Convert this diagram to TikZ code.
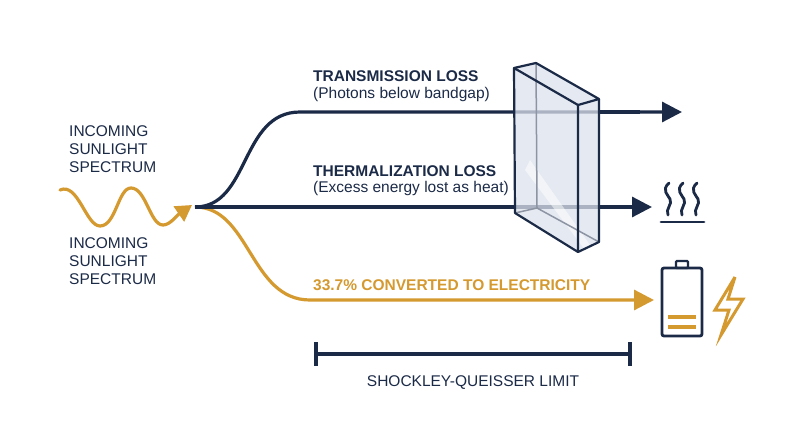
\documentclass[tikz,border=0pt]{standalone}
\usepackage{fontspec}
\setmainfont{Liberation Sans}
\usetikzlibrary{arrows.meta}
\definecolor{navy}{HTML}{1B2A47}
\definecolor{gold}{HTML}{D4992F}
\definecolor{glass}{HTML}{DCE2EC}
\begin{document}
\begin{tikzpicture}[x=1pt,y=-1pt,
  nv/.style={draw=navy,line width=3.2pt},
  gd/.style={draw=gold,line width=3.2pt},
  tip/.style={-{Triangle[length=20pt,width=20pt]}},
  lbl/.style={font=\fontsize{15.5}{18}\selectfont,anchor=west,inner sep=0},
  left/.style={font=\fontsize{15.5}{18}\selectfont,align=left,anchor=north west,inner sep=0,text=navy}]
\useasboundingbox (0,0) rectangle (800,447);
% wave
\coordinate (w0) at (60,190);
\coordinate (wt) at (192,205);
\draw[gd,-{Triangle[length=16pt,width=18pt]},line cap=round]
  (w0) .. controls (78,182) and (86,226) .. (100,226)
  .. controls (116,226) and (118,188) .. (131,188)
  .. controls (146,188) and (150,225) .. (163,225)
  .. controls (170,225) and (176,216) .. (wt);
\coordinate (s) at (195,207);
% branches
\coordinate (tEnd) at (682,112);
\coordinate (mEnd) at (652,207);
\coordinate (bEnd) at (654,300);
\draw[gd,tip] (s) .. controls (250,207) and (250,300) .. (310,300) -- (bEnd);
\draw[nv,tip] (s) .. controls (250,207) and (240,112) .. (300,112) -- (tEnd);
\draw[nv,tip] (s) -- (mEnd);
% glass
\begin{scope}[draw=navy,line width=2.2pt,line join=round]
\fill[glass,opacity=0.75] (514,68)--(536,63)--(599,99)--(599,242)--(578,252)--(515,213)--cycle;
\fill[white,opacity=0.5] (525,170)--(530,160)--(590,245)--(585,250)--cycle;
\draw[navy!50,line width=1.5pt] (536,63)--(537,208)--(599,242) (537,208)--(515,213);
\draw (514,68)--(578,105)--(578,252)--(515,213)--cycle;
\draw (514,68)--(536,63)--(599,99)--(578,105);
\draw (599,99)--(599,242)--(578,252);
\end{scope}
\draw[nv] (599,112)--(640,112);
\draw[nv] (599,207)--(620,207);
% labels
\node[lbl,font=\fontsize{15.5}{18}\selectfont\bfseries,text=navy] (t1) at (313,76) {TRANSMISSION LOSS};
\node[lbl,text=navy] (t2) at (313,94) {(Photons below bandgap)};
\node[lbl,font=\fontsize{15.5}{18}\selectfont\bfseries,text=navy] (t3) at (313,171) {THERMALIZATION LOSS};
\node[lbl,text=navy] (t4) at (313,188) {(Excess energy lost as heat)};
\node[lbl,font=\fontsize{15.5}{18}\selectfont\bfseries,text=gold] (t5) at (313,285) {33.7\% CONVERTED TO ELECTRICITY};
\node[left] (l1) at (69,125) {INCOMING\\SUNLIGHT\\SPECTRUM};
\node[left] (l2) at (69,237) {INCOMING\\SUNLIGHT\\SPECTRUM};
% heat icon
\begin{scope}[draw=navy,line width=2.8pt,line cap=round]
\foreach \x in {669,683,697}{
 \draw (\x,183) .. controls (\x-8,190) and (\x-1,195) .. (\x+1,199) .. controls (\x+4,204) and (\x-4,209) .. (\x-1,215);}
\draw (661,222)--(704,222);
\end{scope}
% battery
\draw[navy,line width=2.8pt,rounded corners=2pt] (662,268) rectangle (702,336);
\draw[navy,line width=2.4pt,rounded corners=1pt] (676,261) rectangle (688,268);
\draw[gold,line width=3.2pt] (668,317)--(696,317) (668,327)--(696,327);
\draw[gold,line width=3pt,line join=miter] (735,277)--(715,310)--(729,310)--(721,335)--(743,299)--(728,299)--(735,277);
% limit
\coordinate (la) at (316,354);
\coordinate (lb) at (630,354);
\draw[nv] (la)--(lb);
\draw[nv] (316,342)--(316,366) (630,342)--(630,366);
\node[lbl,anchor=center,text=navy] (lim) at (473,383) {SHOCKLEY-QUEISSER LIMIT};
\end{tikzpicture}
\end{document}
